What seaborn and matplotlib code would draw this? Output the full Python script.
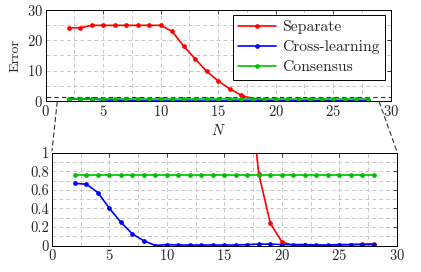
import numpy as np
import pandas as pd
import matplotlib
matplotlib.use("Agg")
import matplotlib.pyplot as plt
from matplotlib.patches import ConnectionPatch
from matplotlib.ticker import MultipleLocator, FuncFormatter
import seaborn as sns

# --- data ---
N = list(range(2, 29))
separate = [24.0, 24.0, 24.8, 24.8, 24.8, 24.8, 24.8, 24.8, 24.8, 22.8, 18.0,
            13.8, 9.7, 6.6, 4.0, 1.9, 0.77, 0.24, 0.04, 0.0, 0.005, 0.0, 0.0,
            0.005, 0.01, 0.015, 0.02]
cross = [0.67, 0.66, 0.57, 0.40, 0.25, 0.125, 0.05, 0.0, 0.01, 0.005, 0.005,
         0.005, 0.005, 0.005, 0.005, 0.01, 0.015, 0.015, 0.01, 0.01, 0.01, 0.005,
         0.005, 0.01, 0.01, 0.01, 0.01]
consensus = [0.76] * len(N)

SERIES = ["Separate", "Cross-learning", "Consensus"]
COLORS = {"Separate": "#ff0000", "Cross-learning": "#0000ff", "Consensus": "#00bf00"}

df = pd.DataFrame({
    "N": N * 3,
    "Error": separate + cross + consensus,
    "method": ["Separate"] * len(N) + ["Cross-learning"] * len(N) + ["Consensus"] * len(N),
})

sns.set_style("white")
plt.rcParams["font.family"] = ["cmr10", "DejaVu Serif"]
plt.rcParams["mathtext.fontset"] = "cm"
plt.rcParams["axes.formatter.use_mathtext"] = True

fig = plt.figure(figsize=(4.21, 2.72), dpi=100)
ax_top = fig.add_axes([45.7 / 421, 1 - 101 / 272, (390.7 - 45.7) / 421, (101 - 9.5) / 272])
ax_bot = fig.add_axes([52 / 421, 1 - 245.5 / 272, (396.7 - 52) / 421, (245.5 - 152.7) / 272])


def style_axes(ax, ymaj, ymin):
    ax.set_xlim(0, 30)
    ax.xaxis.set_major_locator(MultipleLocator(5))
    ax.xaxis.set_minor_locator(MultipleLocator(2.5))
    ax.yaxis.set_major_locator(MultipleLocator(ymaj))
    ax.yaxis.set_minor_locator(MultipleLocator(ymin))
    ax.grid(which="both", color="#c8c8c8", linestyle=(0, (4, 3)), linewidth=0.7)
    ax.set_axisbelow(True)
    ax.tick_params(which="both", direction="in", top=True, right=True,
                   labelsize=10.5, length=3, width=0.6, pad=2)
    ax.tick_params(which="minor", length=0)
    for s in ax.spines.values():
        s.set_linewidth(0.7)
        s.set_color("black")
    ax.set_xlabel("")
    ax.set_ylabel("")


for ax in (ax_top, ax_bot):
    sns.lineplot(data=df, x="N", y="Error", hue="method", hue_order=SERIES,
                 palette=COLORS, marker="o", markersize=3.4, markeredgewidth=0,
                 linewidth=1.2, ax=ax, legend=(ax is ax_top), clip_on=True)

style_axes(ax_top, 10, 5)
ax_top.set_ylim(0, 30)
ax_top.set_ylabel("Error", fontsize=10, labelpad=4)
ax_top.set_xlabel("$N$", fontsize=10.5, labelpad=3)
leg = ax_top.legend(loc="upper right", fontsize=11.3, frameon=True, fancybox=False,
                    edgecolor="black", framealpha=1, borderpad=0.35,
                    handlelength=2.4, handletextpad=0.4, labelspacing=0.38,
                    borderaxespad=0.35)
leg.get_frame().set_linewidth(0.7)

style_axes(ax_bot, 0.2, 0.1)
ax_bot.set_ylim(0, 1)
ax_bot.yaxis.set_major_formatter(FuncFormatter(lambda v, p: f"{v:g}"))

# zoom indication
ax_top.plot([0, 30], [1.2, 1.2], color="#333333", linestyle=(0, (4, 3)),
            linewidth=0.8, clip_on=False, zorder=1)
for xd, xb in [(1, 0), (29, 1)]:
    con = ConnectionPatch(xyA=(xd, -0.3), coordsA=ax_top.transData,
                          xyB=(xb, 1.02), coordsB=ax_bot.transAxes,
                          color="#333333", linestyle=(0, (4, 3)), linewidth=0.8)
    fig.add_artist(con)

fig.savefig("out.png", dpi=100)
